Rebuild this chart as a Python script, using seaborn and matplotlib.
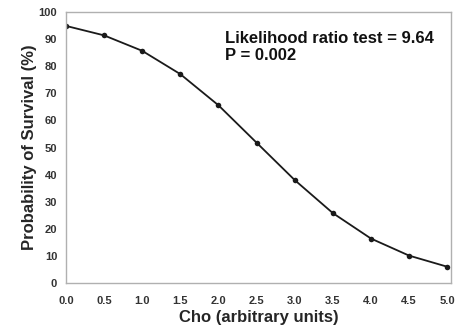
import numpy as np
import pandas as pd
import matplotlib
matplotlib.use("Agg")
import matplotlib.pyplot as plt
import seaborn as sns

# values
cho = [0.0, 0.5, 1.0, 1.5, 2.0, 2.5, 3.0, 3.5, 4.0, 4.5, 5.0]
survival = [94.9, 91.4, 85.7, 77.1, 65.6, 51.8, 38.0, 25.8, 16.4, 10.1, 6.0]
x_ticks = [0.0, 0.5, 1.0, 1.5, 2.0, 2.5, 3.0, 3.5, 4.0, 4.5, 5.0]
y_ticks = [0, 10, 20, 30, 40, 50, 60, 70, 80, 90, 100]

df = pd.DataFrame({"cho": cho, "survival": survival})

sns.set_style("white")
plt.rcParams["font.family"] = ["Liberation Sans", "DejaVu Sans"]

fig, ax = plt.subplots(figsize=(4.64, 3.26), dpi=100)
fig.subplots_adjust(left=0.142, right=0.972, top=0.963, bottom=0.132)

sns.lineplot(data=df, x="cho", y="survival", color="#1a1a1a", lw=1.3,
             marker="o", markersize=4, markeredgewidth=0, ax=ax)

ax.set_xlim(0, 5.05)
ax.set_ylim(0, 100)
ax.set_xticks(x_ticks)
ax.set_xticklabels([f"{v:.1f}" for v in x_ticks])
ax.set_yticks(y_ticks)

for s in ax.spines.values():
    s.set_color("#b0b0b0")
    s.set_linewidth(1.0)
ax.tick_params(axis="both", direction="out", length=3.3, width=1, color="#a0a0a0",
               labelsize=8, pad=3)
for lab in ax.get_xticklabels() + ax.get_yticklabels():
    lab.set_fontweight("bold")
    lab.set_color("#333333")
ax.tick_params(axis="x", pad=6)

ax.set_xlabel("Cho (arbitrary units)", fontsize=12, fontweight="bold")
ax.set_ylabel("Probability of Survival (%)", fontsize=12, fontweight="bold")
ax.xaxis.set_label_coords(0.5, -0.1)
ax.yaxis.set_label_coords(-0.074, 0.5)

ax.text(2.09, 87.0, "Likelihood ratio test = 9.64\nP = 0.002", fontsize=12,
        fontweight="bold", color="#111111", va="center", ha="left", linespacing=1.2)

fig.savefig("out.png", dpi=100)
